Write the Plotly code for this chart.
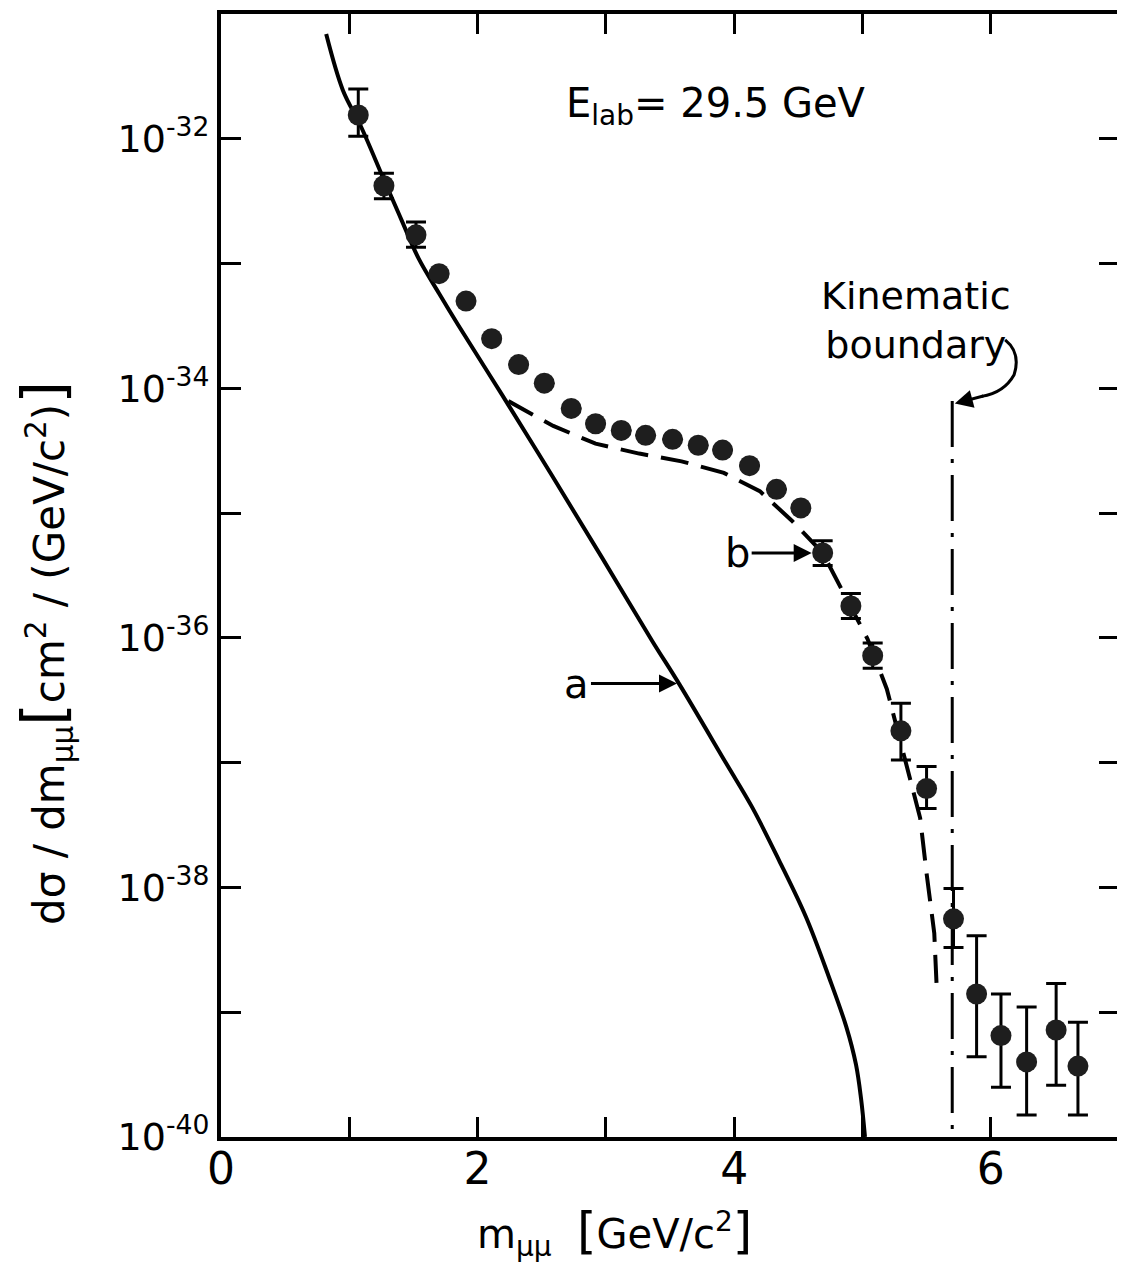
import numpy as np
import plotly.graph_objects as go

# ---------------- data ----------------
m_data = [1.07, 1.27, 1.52, 1.70, 1.91, 2.11, 2.32, 2.52, 2.73, 2.92, 3.12, 3.31,
          3.52, 3.72, 3.91, 4.12, 4.33, 4.52, 4.69, 4.91, 5.08, 5.30, 5.50, 5.71,
          5.89, 6.08, 6.28, 6.51, 6.68]
sigma = [1.55e-32, 4.2e-33, 1.7e-33, 8.3e-34, 5.0e-34, 2.5e-34, 1.55e-34, 1.1e-34,
         6.9e-35, 5.2e-35, 4.6e-35, 4.2e-35, 3.9e-35, 3.5e-35, 3.2e-35, 2.4e-35,
         1.55e-35, 1.1e-35, 4.8e-36, 1.8e-36, 7.2e-37, 1.8e-37, 6.2e-38, 5.6e-39,
         1.4e-39, 6.5e-40, 4.0e-40, 7.2e-40, 3.7e-40]
sigma_hi = [2.5e-32, 5.3e-33, 2.15e-33, 8.3e-34, 5.0e-34, 2.5e-34, 1.55e-34, 1.1e-34,
            6.9e-35, 5.2e-35, 4.6e-35, 4.2e-35, 3.9e-35, 3.5e-35, 3.2e-35, 2.4e-35,
            1.55e-35, 1.1e-35, 6.0e-36, 2.27e-36, 9.1e-37, 3.0e-37, 9.3e-38, 9.8e-39,
            4.1e-39, 1.4e-39, 1.1e-39, 1.7e-39, 8.3e-40]
sigma_lo = [1.05e-32, 3.3e-33, 1.35e-33, 8.3e-34, 5.0e-34, 2.5e-34, 1.55e-34, 1.1e-34,
            6.9e-35, 5.2e-35, 4.6e-35, 4.2e-35, 3.9e-35, 3.5e-35, 3.2e-35, 2.4e-35,
            1.55e-35, 1.1e-35, 3.8e-36, 1.43e-36, 5.7e-37, 1.05e-37, 4.3e-38, 3.3e-39,
            4.4e-40, 2.5e-40, 1.5e-40, 2.6e-40, 1.5e-40]

# curve a (solid)
m_a = [0.82, 0.95, 1.09, 1.27, 1.41, 1.54, 1.70, 1.85, 2.19, 2.58, 2.97, 3.36, 3.57,
       3.94, 4.14, 4.35, 4.56, 4.74, 4.875, 4.95, 4.99, 5.02]
sig_a = [6.9e-32, 2.45e-32, 1.26e-32, 4.7e-33, 2.2e-33, 1.1e-33, 5.75e-34, 3.2e-34,
         8.9e-35, 2.0e-35, 4.4e-36, 9.5e-37, 4.3e-37, 9.8e-38, 4.4e-38, 1.65e-38,
         5.8e-39, 1.9e-39, 7.6e-40, 3.8e-40, 2.0e-40, 1.0e-40]

# curve b (dashed)
m_b = [2.24, 2.59, 2.92, 3.26, 3.59, 3.92, 4.20, 4.45, 4.69, 4.86, 5.04, 5.19, 5.35,
       5.45, 5.50, 5.56, 5.58]
sig_b = [7.9e-35, 5.0e-35, 3.6e-35, 3.0e-35, 2.6e-35, 2.1e-35, 1.5e-35, 8.7e-36,
         4.8e-36, 2.2e-36, 9.8e-37, 3.9e-37, 9.1e-38, 3.6e-38, 1.3e-38, 4.3e-39, 1.5e-39]

# kinematic boundary
m_kin = [5.70, 5.70]
sig_kin = [7.9e-35, 1.0e-40]

x_tickvals = [0, 2, 4, 6]
x_ticktext = ["0", "2", "4", "6"]
x_minor = [1, 3, 5]
y_tickvals = [1e-40, 1e-38, 1e-36, 1e-34, 1e-32]
y_ticktext = ["10<sup>-40</sup>", "10<sup>-38</sup>", "10<sup>-36</sup>",
              "10<sup>-34</sup>", "10<sup>-32</sup>"]
y_minor = [1e-39, 1e-37, 1e-35, 1e-33]

FONT = "DejaVu Sans"

err_plus = [h - s for h, s in zip(sigma_hi, sigma)]
err_minus = [s - l for s, l in zip(sigma, sigma_lo)]

fig = go.Figure()

fig.add_trace(go.Scatter(x=m_a, y=sig_a, mode="lines", line_shape="spline",
                         line=dict(color="black", width=4), showlegend=False))
fig.add_trace(go.Scatter(x=m_b, y=sig_b, mode="lines",
                         line=dict(color="black", width=4, dash="28px,13px"),
                         showlegend=False))
fig.add_trace(go.Scatter(x=m_kin, y=sig_kin, mode="lines",
                         line=dict(color="black", width=3, dash="46px,12px,4px,12px"),
                         showlegend=False))
fig.add_trace(go.Scatter(
    x=m_data, y=sigma, mode="markers",
    marker=dict(size=21, color="#1e1e1e", line=dict(width=0)),
    error_y=dict(type="data", symmetric=False, array=err_plus, arrayminus=err_minus,
                 color="black", thickness=3, width=10),
    showlegend=False))

axis_common = dict(showgrid=False, zeroline=False, showline=True, linewidth=4,
                   linecolor="black", mirror="ticks", ticks="inside", ticklen=20,
                   tickwidth=3, tickcolor="black")

fig.update_xaxes(range=[0, 7], tickmode="array", tickvals=x_tickvals,
                 ticktext=x_ticktext, tickfont=dict(family=FONT, size=44, color="black"),
                 ticklabelstandoff=-10,
                 minor=dict(tickmode="array", tickvals=x_minor, ticks="inside",
                            ticklen=20, tickwidth=3, tickcolor="black"),
                 **axis_common)
fig.update_yaxes(type="log", range=[-40, -31], tickmode="array", tickvals=y_tickvals,
                 ticktext=y_ticktext, tickfont=dict(family=FONT, size=38, color="black"),
                 ticklabelstandoff=0,
                 minor=dict(tickmode="array", tickvals=y_minor, ticks="inside",
                            ticklen=20, tickwidth=3, tickcolor="black"),
                 **axis_common)

ann = []
# axis titles
ann.append(dict(xref="paper", yref="paper", x=-0.196, y=0.431, textangle=-90,
                showarrow=False, xanchor="center", yanchor="middle",
                text="dσ / dm<sub>μμ</sub><span style='font-size:58px'>[</span>cm<sup>2</sup> / (GeV/c<sup>2</sup>)<span style='font-size:58px'>]</span>",
                font=dict(family=FONT, size=42, color="black")))
ann.append(dict(xref="paper", yref="paper", x=0.438, y=-0.085, showarrow=False,
                xanchor="center", yanchor="middle",
                text="m<sub>μμ</sub>  <span style='font-size:50px'>[</span>GeV/c<sup>2</sup><span style='font-size:50px'>]</span>",
                font=dict(family=FONT, size=40, color="black")))
# energy label
ann.append(dict(xref="paper", yref="paper", x=0.551, y=0.918, showarrow=False,
                xanchor="center", yanchor="middle",
                text="E<sub>lab</sub>= 29.5 GeV",
                font=dict(family=FONT, size=40, color="black")))
# kinematic boundary label
ann.append(dict(xref="paper", yref="paper", x=0.774, y=0.727, showarrow=False,
                xanchor="center", yanchor="middle",
                text="Kinematic<br>boundary",
                font=dict(family=FONT, size=38, color="black")))
# arrow head to kinematic line
ann.append(dict(x=m_kin[0] + 0.02, y=np.log10(sig_kin[0]) - 0.02, xref="x", yref="y",
                ax=30, ay=-8, text="", showarrow=True, arrowhead=2, arrowsize=1.2,
                arrowwidth=3, arrowcolor="black"))
# curve a label
ann.append(dict(x=m_a[12], y=np.log10(sig_a[12]), xref="x", yref="y", ax=-102, ay=0,
                text="a", showarrow=True, arrowhead=2, arrowsize=1.2, arrowwidth=3,
                arrowcolor="black", standoff=2,
                font=dict(family=FONT, size=40, color="black")))
# curve b label
ann.append(dict(x=m_data[18], y=np.log10(sigma[18]), xref="x", yref="y", ax=-85, ay=0,
                text="b", showarrow=True, arrowhead=2, arrowsize=1.2, arrowwidth=3,
                arrowcolor="black", standoff=11,
                font=dict(family=FONT, size=40, color="black")))

# the page body has an 8px margin, so the figure is sized/positioned to compensate
fig.update_layout(
    width=1117, height=1254,
    margin=dict(l=213, r=5, t=2, b=125),
    paper_bgcolor="white", plot_bgcolor="white",
    annotations=ann,
    shapes=[dict(type="path", xref="paper", yref="paper",
                 path="M 0.8732 0.7098 Q 0.8910 0.6983 0.8832 0.6788 Q 0.8721 0.6628 0.8470 0.6595",
                 line=dict(color="black", width=3))],
)

fig.write_html("out.html")
